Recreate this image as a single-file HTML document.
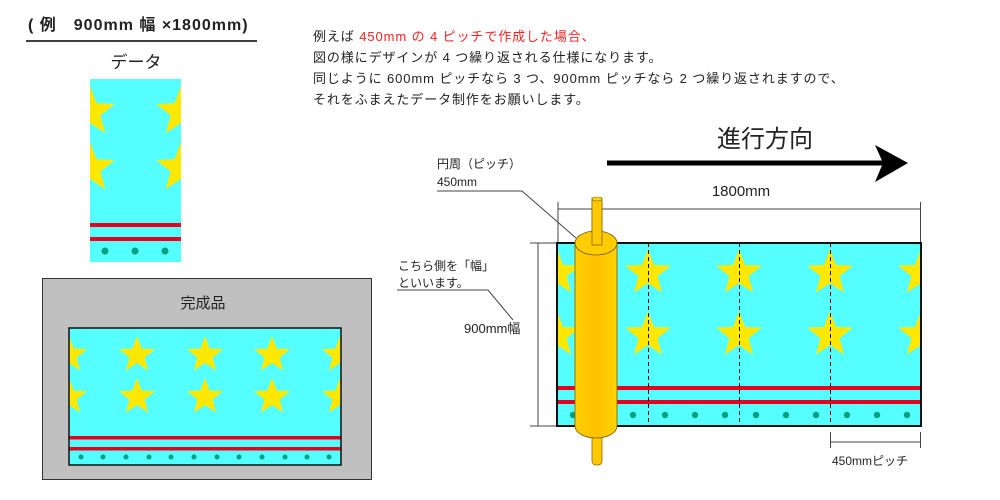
<!DOCTYPE html>
<html><head><meta charset="utf-8"><style>
html,body{margin:0;padding:0;background:#fff}
svg{display:block}
text{font-family:"Liberation Sans","Noto Sans CJK JP",sans-serif;fill:#222}
</style></head><body>
<svg width="1000" height="500" viewBox="0 0 1000 500" xmlns="http://www.w3.org/2000/svg">
<defs>
<path id="st" fill="#ffe800" d="M0,-1 L0.2469,-0.3398 L0.9511,-0.309 L0.3995,0.1298 L0.5878,0.809 L0,0.42 L-0.5878,0.809 L-0.3995,0.1298 L-0.9511,-0.309 L-0.2469,-0.3398Z"/>
<clipPath id="c1"><rect x="90" y="79" width="91" height="183"/></clipPath>
<clipPath id="c2"><rect x="69" y="328" width="272" height="137"/></clipPath>
<clipPath id="c3"><rect x="557" y="243" width="364" height="183"/></clipPath>
<linearGradient id="g" x1="0" x2="1"><stop offset="0" stop-color="#ffd000"/><stop offset="0.5" stop-color="#ffbf00"/><stop offset="1" stop-color="#ffd400"/></linearGradient>
</defs>

<text x="28" y="30" font-size="16" font-weight="bold" fill="#111" letter-spacing="1">( 例　900mm 幅 ×1800mm)</text>
<line x1="26" y1="41" x2="257" y2="41" stroke="#000" stroke-width="1.5"/>
<text x="136" y="68" font-size="17" text-anchor="middle">データ</text>

<g clip-path="url(#c1)">
<rect x="90" y="79" width="91" height="183" fill="#55ffff"/>
<use href="#st" transform="translate(90,112) scale(26)"/>
<use href="#st" transform="translate(181,112) scale(26)"/>
<use href="#st" transform="translate(90,168) scale(26)"/>
<use href="#st" transform="translate(181,168) scale(26)"/>
<rect x="90" y="223" width="91" height="4" fill="#e8001c"/>
<rect x="90" y="237" width="91" height="4" fill="#e8001c"/>
<circle cx="105" cy="251" r="3.5" fill="#00a080"/><circle cx="135" cy="251" r="3.5" fill="#00a080"/><circle cx="165" cy="251" r="3.5" fill="#00a080"/>
</g>

<rect x="42.5" y="278.5" width="329" height="201" fill="#c0c0c0" stroke="#333" stroke-width="1"/>
<text x="203" y="308" font-size="15" text-anchor="middle">完成品</text>
<g clip-path="url(#c2)">
<rect x="69" y="328" width="272" height="137" fill="#55ffff"/>
<g id="r2">
<use href="#st" transform="translate(69,355) scale(19)"/>
<use href="#st" transform="translate(137,355) scale(19)"/>
<use href="#st" transform="translate(205,355) scale(19)"/>
<use href="#st" transform="translate(272,355) scale(19)"/>
<use href="#st" transform="translate(340,355) scale(19)"/>
</g>
<use href="#r2" transform="translate(0,42)"/>
<rect x="69" y="436" width="272" height="3.5" fill="#e8001c"/>
<rect x="69" y="447" width="272" height="3.5" fill="#e8001c"/>
<g fill="#00a080">
<circle cx="81" cy="457" r="2.5"/><circle cx="103" cy="457" r="2.5"/><circle cx="126" cy="457" r="2.5"/><circle cx="149" cy="457" r="2.5"/><circle cx="171" cy="457" r="2.5"/><circle cx="194" cy="457" r="2.5"/><circle cx="217" cy="457" r="2.5"/><circle cx="239" cy="457" r="2.5"/><circle cx="262" cy="457" r="2.5"/><circle cx="285" cy="457" r="2.5"/><circle cx="307" cy="457" r="2.5"/><circle cx="329" cy="457" r="2.5"/>
</g>
</g>
<rect x="69" y="328" width="272" height="137" fill="none" stroke="#111" stroke-width="1.5"/>

<g font-size="13" letter-spacing="0.9">
<text x="313" y="41"><tspan>例えば </tspan><tspan fill="#ff2020">450mm の 4 ピッチで作成した場合、</tspan></text>
<text x="313" y="62">図の様にデザインが 4 つ繰り返される仕様になります。</text>
<text x="313" y="83">同じように 600mm ピッチなら 3 つ、900mm ピッチなら 2 つ繰り返されますので、</text>
<text x="313" y="104">それをふまえたデータ制作をお願いします。</text>
</g>

<text x="717" y="147" font-size="24">進行方向</text>
<line x1="607" y1="163" x2="884" y2="163" stroke="#000" stroke-width="5"/>
<path d="M908,163 L875,145 L883,163 L875,182 Z" fill="#000"/>

<text x="741" y="196" font-size="15" text-anchor="middle">1800mm</text>
<g stroke="#444" stroke-width="1" fill="none">
<line x1="558" y1="209" x2="920" y2="209"/>
<line x1="558" y1="202" x2="558" y2="243"/>
<line x1="920.5" y1="202" x2="920.5" y2="243"/>
<line x1="538" y1="243" x2="538" y2="426"/>
<line x1="530" y1="243" x2="557" y2="243"/>
<line x1="530" y1="426" x2="557" y2="426"/>
<line x1="830.5" y1="432" x2="830.5" y2="448"/>
<line x1="920.5" y1="432" x2="920.5" y2="448"/>
<line x1="830" y1="442" x2="920" y2="442"/>
<polyline points="437,191 522,191 576,238"/>
<polyline points="397,290 488,290 513,320"/>
</g>
<text x="437" y="168" font-size="12">円周（ピッチ）</text>
<text x="437" y="186" font-size="12">450mm</text>
<text x="398" y="270" font-size="12">こちら側を「幅」</text>
<text x="398" y="287" font-size="12">といいます。</text>
<text x="464" y="333" font-size="13">900mm幅</text>
<text x="832" y="465" font-size="12">450mmピッチ</text>

<g clip-path="url(#c3)">
<rect x="557" y="243" width="364" height="183" fill="#55ffff"/>
<g id="r3">
<use href="#st" transform="translate(557,273) scale(24)"/>
<use href="#st" transform="translate(648,273) scale(24)"/>
<use href="#st" transform="translate(739,273) scale(24)"/>
<use href="#st" transform="translate(830,273) scale(24)"/>
<use href="#st" transform="translate(921,273) scale(24)"/>
</g>
<use href="#r3" transform="translate(0,62)"/>
<rect x="557" y="386" width="364" height="4" fill="#e8001c"/>
<rect x="557" y="400" width="364" height="4" fill="#e8001c"/>
<g fill="#00a080">
<circle cx="573" cy="415" r="3.2"/><circle cx="633" cy="415" r="3.2"/><circle cx="665" cy="415" r="3.2"/><circle cx="695" cy="415" r="3.2"/><circle cx="725" cy="415" r="3.2"/><circle cx="756" cy="415" r="3.2"/><circle cx="786" cy="415" r="3.2"/><circle cx="816" cy="415" r="3.2"/><circle cx="847" cy="415" r="3.2"/><circle cx="877" cy="415" r="3.2"/><circle cx="907" cy="415" r="3.2"/>
</g>
<g stroke="#111" stroke-width="1" stroke-dasharray="4,3">
<line x1="648.5" y1="243" x2="648.5" y2="426"/><line x1="739.5" y1="243" x2="739.5" y2="426"/><line x1="830.5" y1="243" x2="830.5" y2="426"/>
</g>
</g>
<rect x="557" y="243" width="364" height="183" fill="none" stroke="#111" stroke-width="2"/>

<rect x="592" y="198" width="10" height="50" rx="4" fill="#ffc800" stroke="#8a6a00" stroke-width="0.8"/>
<rect x="592" y="420" width="10" height="45" rx="4" fill="#ffc800" stroke="#8a6a00" stroke-width="0.8"/>
<path d="M575,243 L575,426 A21,12 0 0 0 617,426 L617,243 Z" fill="url(#g)" stroke="#7a5a00" stroke-width="0.8"/>
<ellipse cx="596" cy="243" rx="21" ry="12" fill="#ffcc00" stroke="#7a5a00" stroke-width="0.8"/>
<rect x="592" y="198" width="10" height="47" fill="#ffc800" stroke="#8a6a00" stroke-width="0.8"/>
<ellipse cx="597" cy="199" rx="5" ry="2" fill="#ffd400" stroke="#8a6a00" stroke-width="0.6"/>
</svg>
</body></html>
